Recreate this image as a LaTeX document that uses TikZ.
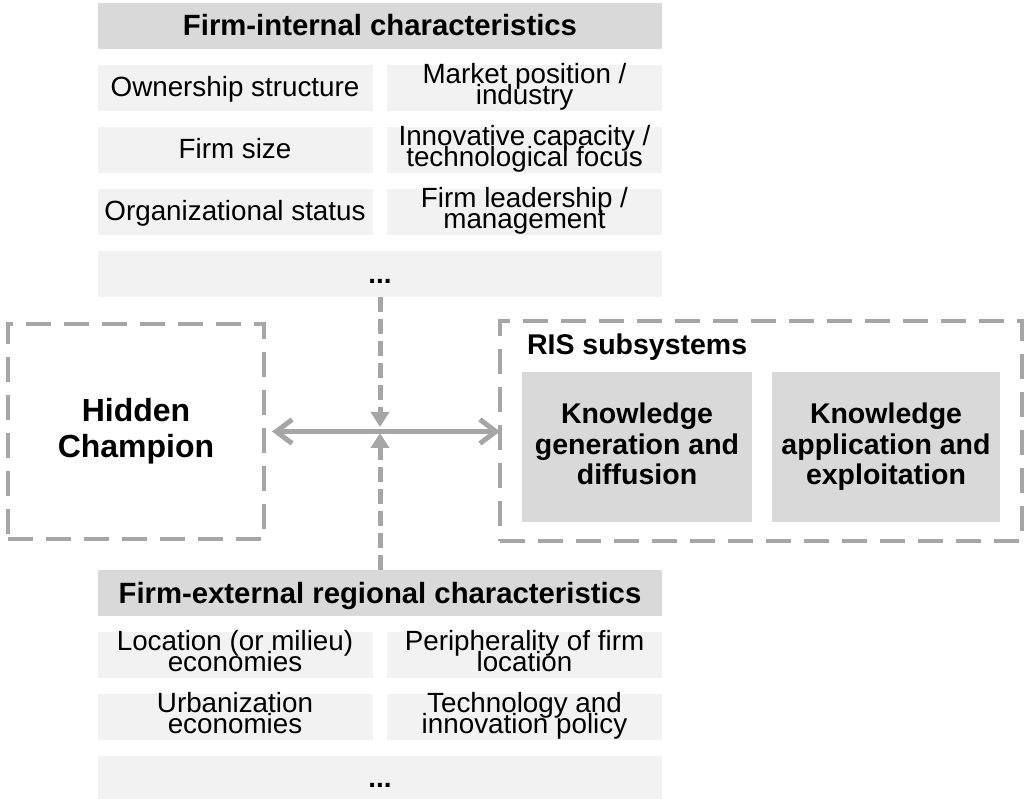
\documentclass[tikz,border=0pt]{standalone}
\usepackage{fontspec}
\setmainfont{Liberation Sans}
\usetikzlibrary{arrows.meta}
\definecolor{tgray}{HTML}{D9D9D9}
\definecolor{igray}{HTML}{F2F2F2}
\definecolor{lgray}{HTML}{A6A6A6}
\newcommand\mytightlines{\lineskiplimit=-100pt\relax\lineskip=0pt\relax}
\begin{document}
\begin{tikzpicture}[x=1pt,y=-1pt,
 every node/.style={inner sep=0pt, outer sep=0pt, align=center},
 titlebox/.style={fill=tgray, minimum width=564pt, minimum height=46pt, font=\fontsize{29.3}{32}\selectfont\bfseries, text height=23pt, text depth=3pt},
 itembase/.style={fill=igray, minimum width=275pt, minimum height=46pt, font=\fontsize{27.8}{21}\selectfont\mytightlines},
 itemone/.style={itembase, text height=20pt, text depth=2.6pt},
 itemtwo/.style={itembase, text height=38pt, text depth=4.6pt},
 dotsbox/.style={fill=igray, minimum width=564pt, minimum height=46pt, font=\fontsize{27.8}{21}\selectfont\bfseries, text height=20pt, text depth=2pt},
 dashbox/.style={draw=lgray, line width=4pt, dash pattern=on 25pt off 13pt},
 kbox/.style={fill=tgray, minimum height=150pt, font=\fontsize{28.5}{30.5}\selectfont\bfseries, text height=82pt, text depth=6pt},
 vline/.style={draw=lgray, line width=5pt, dash pattern=on 15pt off 7pt, -{Triangle[length=15pt,width=18pt]}},
 harrow/.style={draw=lgray, line width=5pt, {Straight Barb[length=16pt,width=24pt]}-{Straight Barb[length=16pt,width=24pt]}}
]
\useasboundingbox (0,0) rectangle (1026,799);
% top block
\node[titlebox] (ttitle) at (380,26) {Firm-internal characteristics};
\node[itemone] (t1l) at (235,88) {Ownership structure};
\node[itemtwo] (t1r) at (524.5,88) {Market position /\\industry};
\node[itemone] (t2l) at (235,150) {Firm size};
\node[itemtwo] (t2r) at (524.5,150) {Innovative capacity /\\technological focus};
\node[itemone] (t3l) at (235,212) {Organizational status};
\node[itemtwo] (t3r) at (524.5,212) {Firm leadership /\\management};
\node[dotsbox] (tdots) at (380,274.5) {...};
% middle
\node[dashbox, minimum width=256pt, minimum height=215pt] (hc) at (136,431.5) {};
\node[font=\fontsize{32}{36}\selectfont\bfseries, text height=58pt, text depth=5pt] (hctext) at (136,431.5) {Hidden\\Champion};
\node[dashbox, minimum width=522pt, minimum height=220pt] (ris) at (761,431) {};
\node[anchor=base west, font=\fontsize{28.5}{30}\selectfont\bfseries] (ristitle) at (527,355) {RIS subsystems};
\node[kbox, minimum width=230pt] (k1) at (637,447) {Knowledge\\generation and\\diffusion};
\node[kbox, minimum width=228pt] (k2) at (886,447) {Knowledge\\application and\\exploitation};
% bottom block
\node[titlebox] (btitle) at (380,593) {Firm-external regional characteristics};
\node[itemtwo] (b1l) at (235,655) {Location (or milieu)\\economies};
\node[itemtwo] (b1r) at (524.5,655) {Peripherality of firm\\location};
\node[itemtwo] (b2l) at (235,717) {Urbanization\\economies};
\node[itemtwo] (b2r) at (524.5,717) {Technology and\\innovation policy};
\node[dotsbox, minimum height=44pt] (bdots) at (380,778) {...};
% connectors
\coordinate (meetT) at (380,427);
\coordinate (meetB) at (380,433);
\draw[vline] (tdots.south) -- (meetT);
\draw[vline] (btitle.north) -- (meetB);
\draw[harrow] ([xshift=8pt]hc.east) -- (hc.east -| ris.west);
\end{tikzpicture}
\end{document}
